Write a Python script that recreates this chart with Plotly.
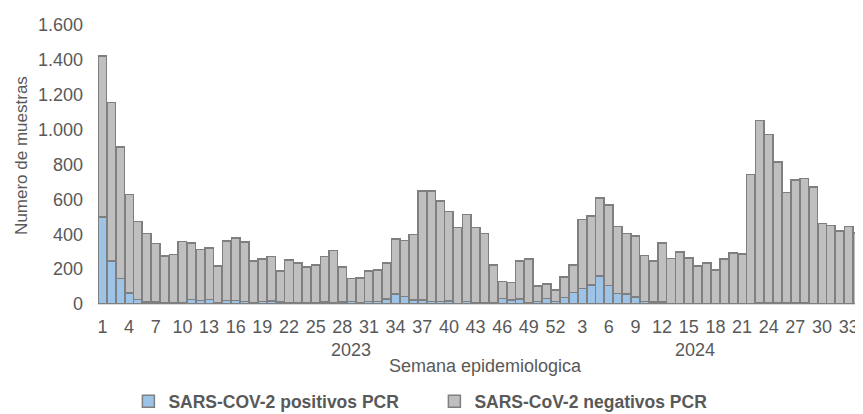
import plotly.graph_objects as go

# ---- data ----
weeks_2023 = list(range(1, 53))
weeks_2024 = list(range(1, 35))

total_2023 = [1423, 1156, 899, 629, 472, 404, 347, 274, 284, 358, 350, 312, 320, 217, 362,
              378, 357, 247, 259, 271, 190, 251, 235, 213, 224, 271, 308, 213, 146, 150,
              190, 194, 234, 373, 364, 398, 648, 648, 590, 530, 438, 512, 440, 404, 225,
              128, 124, 248, 259, 103, 116, 80]
positivos_2023 = [499, 248, 145, 63, 27, 11, 11, 8, 10, 10, 27, 19, 27, 10, 19,
                  19, 15, 6, 15, 17, 11, 8, 10, 8, 10, 11, 10, 11, 13, 10,
                  15, 15, 30, 57, 42, 23, 23, 13, 13, 17, 4, 13, 10, 10, 8,
                  32, 23, 29, 10, 13, 32, 15]

total_2024 = [155, 224, 484, 505, 608, 569, 444, 403, 389, 278, 248, 349, 261, 299, 263,
              219, 236, 196, 259, 293, 286, 742, 1051, 972, 815, 640, 710, 720, 670, 463,
              451, 419, 444, 406]
positivos_2024 = [36, 66, 90, 108, 160, 107, 59, 58, 40, 13, 11, 11, 3, 3, 3,
                  3, 3, 3, 3, 3, 3, 3, 5, 5, 5, 5, 5, 5, 3, 3,
                  3, 3, 3, 3]

categories = [f"2023-{w}" for w in weeks_2023] + [f"2024-{w}" for w in weeks_2024]
positivos = positivos_2023 + positivos_2024
totales = total_2023 + total_2024
negativos = [t - p for t, p in zip(totales, positivos)]

tick_weeks_2023 = [w for w in weeks_2023 if w % 3 == 1]
tick_weeks_2024 = [w for w in weeks_2024 if w % 3 == 0]
tickvals = [f"2023-{w}" for w in tick_weeks_2023] + [f"2024-{w}" for w in tick_weeks_2024]
ticktext = [str(w) for w in tick_weeks_2023] + [str(w) for w in tick_weeks_2024]

FONT = "Liberation Sans, Arial, sans-serif"
TXT = "#595959"
EDGE = "#7F7F7F"

fig = go.Figure()
fig.add_trace(go.Bar(
    x=categories, y=positivos, name="SARS-COV-2 positivos PCR",
    marker=dict(color="#9DC3E6", line=dict(color=EDGE, width=1.5)),
))
fig.add_trace(go.Bar(
    x=categories, y=negativos, name="SARS-CoV-2 negativos PCR",
    marker=dict(color="#BFBFBF", line=dict(color=EDGE, width=1.5)),
))

fig.update_layout(
    width=855, height=406,
    margin=dict(l=90, r=1, t=17, b=110),
    barmode="stack", bargap=0.04,
    paper_bgcolor="white", plot_bgcolor="white",
    separators=",.",
    font=dict(family=FONT, size=18, color=TXT),
    showlegend=True,
    legend=dict(
        orientation="h", traceorder="normal",
        xref="container", yref="container",
        x=0.1408, xanchor="left", y=0.031, yanchor="middle",
        font=dict(family=FONT, size=17.5, color=TXT, weight="bold"),
        entrywidth=261, entrywidthmode="pixels",
        bgcolor="rgba(0,0,0,0)",
    ),
    xaxis=dict(
        type="category", tickmode="array", tickvals=tickvals, ticktext=ticktext,
        tickangle=0, showgrid=False, showline=True, linecolor="#D9D9D9", linewidth=1,
        ticks="", tickfont=dict(family=FONT, size=18, color=TXT),
        ticklabelstandoff=6, automargin=False,
    ),
    yaxis=dict(
        range=[0, 1600], dtick=200, tickformat=",d", showgrid=False,
        showline=False, zeroline=False, ticks="",
        tickfont=dict(family=FONT, size=18, color=TXT), ticklabelstandoff=14,
        automargin=False,
    ),
    annotations=[
        dict(text="Numero de muestras", x=-0.116, y=0.534, xref="paper", yref="paper",
             textangle=-90, showarrow=False, font=dict(family=FONT, size=17, color=TXT)),
        dict(text="2023", x=0.302, y=-0.208, xref="paper", yref="paper",
             showarrow=False, font=dict(family=FONT, size=18, color=TXT)),
        dict(text="2024", x=0.81, y=-0.208, xref="paper", yref="paper",
             showarrow=False, font=dict(family=FONT, size=18, color=TXT)),
        dict(text="Semana epidemiologica", x=0.507, y=-0.265, xref="paper", yref="paper",
             showarrow=False, font=dict(family=FONT, size=18, color=TXT)),
    ],
)

fig.write_html("out.html")
